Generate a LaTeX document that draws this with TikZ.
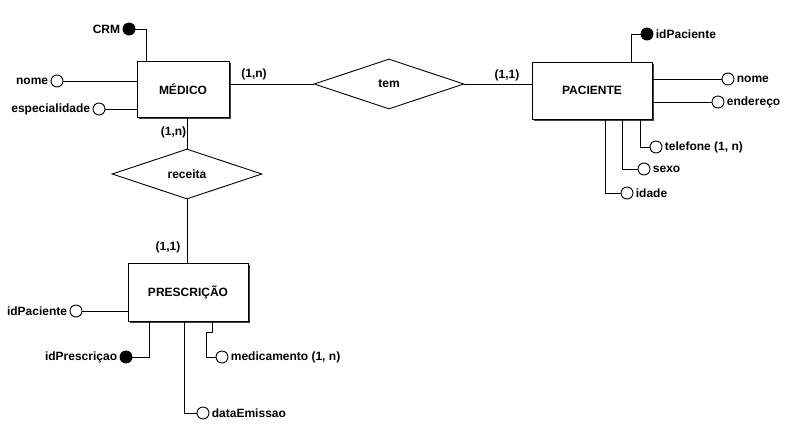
\documentclass[tikz,border=0pt]{standalone}
\usepackage{fontspec}
\setmainfont{Liberation Sans}
\usetikzlibrary{shapes.geometric,shadows,calc}
\begin{document}
\begin{tikzpicture}[x=1pt,y=-1pt,line width=0.9pt,
  every node/.style={font=\fontsize{12}{14}\selectfont\bfseries},
  entity/.style={draw,fill=white,rectangle,inner sep=0pt,
    drop shadow={shadow xshift=2pt,shadow yshift=-2pt,fill=black!75,opacity=1}},
  rel/.style={draw,fill=white,diamond,inner sep=0pt,minimum width=150pt,minimum height=50pt},
  attr/.style={draw,fill=white,circle,inner sep=0pt,minimum size=12pt},
  keyattr/.style={draw,fill=black,circle,inner sep=0pt,minimum size=12pt},
  every label/.style={inner sep=1pt,font=\fontsize{12}{14}\selectfont\bfseries},
  label distance=1pt,
  card/.style={inner sep=0pt}]
\path[use as bounding box] (0,0) rectangle (792,424);

% entities
\node[entity,minimum width=92pt,minimum height=56pt] (med) at (183,89) {MÉDICO};
\node[entity,minimum width=120pt,minimum height=57pt] (pac) at (592,90.5) {PACIENTE};
\node[entity,minimum width=120pt,minimum height=58pt] (pre) at (188,292) {PRESCRIÇÃO};

% relationships
\node[rel] (tem) at (389,84) {tem};
\node[rel] (rec) at (187,174) {receita};

% relationship connectors
\draw (tem.west) -- (tem.west -| med.east);
\draw (tem.east) -- (tem.east -| pac.west);
\draw (rec.north) -- (rec.north |- med.south);
\draw (rec.south) -- (rec.south |- pre.north);

% cardinalities
\node[card] (c1) at (254,74) {(1,n)};
\node[card] (c2) at (507,75) {(1,1)};
\node[card] (c3) at (173.5,132) {(1,n)};
\node[card] (c4) at (168,247) {(1,1)};

% MEDICO attributes
\node[keyattr,label=left:CRM] (crm) at (129,29) {};
\node[attr,label=left:nome] (nome1) at (57,81) {};
\node[attr,label=left:especialidade] (esp) at (99,109) {};
\draw (crm.east) -| ($(med.north west)+(10,0)$);
\draw (nome1.east) -- (nome1 -| med.west);
\draw (esp.east) -- (esp -| med.west);

% PACIENTE attributes
\node[keyattr,label=right:idPaciente] (idp) at (647,34) {};
\node[attr,label=right:nome] (nome2) at (728,79) {};
\node[attr,label=right:endereço] (end) at (718,102) {};
\node[attr,label=right:{telefone (1, n)}] (tel) at (656,147) {};
\node[attr,label=right:sexo] (sexo) at (644,169) {};
\node[attr,label=right:idade] (idade) at (627,193) {};
\draw (idp.west) -| ($(pac.north west)+(100,0)$);
\draw (nome2.west) -- (nome2 -| pac.east);
\draw (end.west) -- (end -| pac.east);
\draw (tel.west) -| ($(pac.south west)+(109,0)$);
\draw (sexo.west) -| ($(pac.south west)+(91,0)$);
\draw (idade.west) -| ($(pac.south west)+(74,0)$);

% PRESCRICAO attributes
\node[attr,label=left:idPaciente] (idp2) at (76,311) {};
\node[keyattr,label=left:idPrescriçao] (idpr) at (126,357) {};
\node[attr,label=right:{medicamento (1, n)}] (medc) at (222,357) {};
\node[attr,label=right:dataEmissao] (dat) at (203,413) {};
\draw (idp2.east) -- (idp2 -| pre.west);
\draw (idpr.east) -| ($(pre.south west)+(22,0)$);
\draw ($(pre.south west)+(85,0)$) -- ++(0,11) -- ++(-6,0) |- (medc.west);
\draw ($(pre.south west)+(57,0)$) |- (dat.west);
\end{tikzpicture}
\end{document}
